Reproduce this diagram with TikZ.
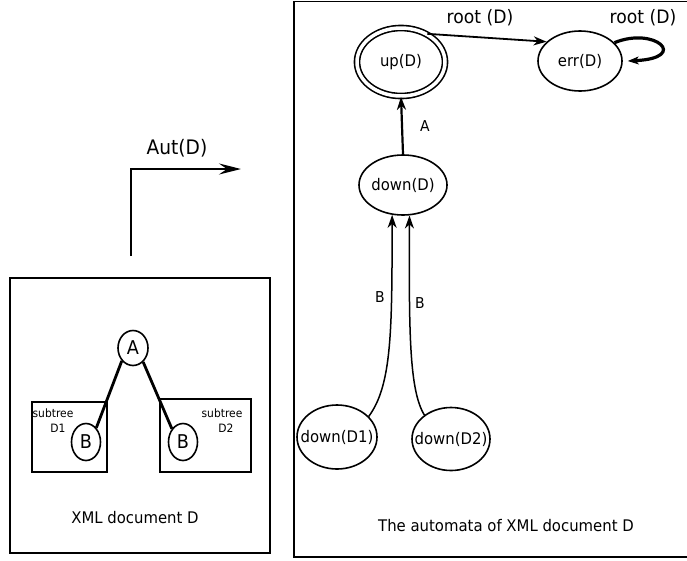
\documentclass[tikz,border=0pt]{standalone}
\usepackage{fontspec}
\setmainfont{DejaVu Sans}
\usetikzlibrary{shapes.geometric,arrows.meta}
\newcommand{\cz}[1]{\scalebox{0.93}[1]{#1}}
\newcommand{\cn}[1]{\makebox[0pt]{\scalebox{0.93}[1]{#1}}}
\begin{document}
\begin{tikzpicture}[x=1pt,y=-1pt,
  st/.style={draw,ellipse,line width=1.6pt,inner sep=0pt,font=\fontsize{16}{18}\selectfont},
  tn/.style={draw,ellipse,line width=1.6pt,inner sep=0pt,minimum width=30pt,minimum height=35pt,font=\fontsize{19}{21}\selectfont},
  frame/.style={draw,line width=1.8pt},
  sub/.style={draw,line width=1.5pt},
  small/.style={font=\fontsize{11.5}{13}\selectfont,inner sep=0pt},
  lab/.style={font=\fontsize{16}{18}\selectfont,inner sep=0pt},
  elab/.style={font=\fontsize{15}{17}\selectfont,inner sep=0pt},
  rlab/.style={font=\fontsize{18.5}{20}\selectfont,inner sep=0pt},
  arr/.style={line width=1.8pt,-{Stealth[length=13pt,width=9pt,inset=4pt]}},
]
\useasboundingbox (0,0) rectangle (687,560);
\clip (0,0) rectangle (687,560);

% left frame
\draw[frame] (10,278) rectangle (270,553);
\draw[sub] (32,402) rectangle (107,472);
\draw[sub] (160,399) rectangle (251,472);
\node[small] (s1) at (53,413) {\cz{subtree}};
\node[small] (d1l) at (58,428) {\cz{D1}};
\node[small] (s2) at (222,413) {\cz{subtree}};
\node[small] (d2l) at (226,428) {\cz{D2}};
\node[tn] (A) at (133,348) {\cn{A}};
\node[tn,minimum width=29pt,minimum height=37pt] (B1) at (86,442) {\cn{B}};
\node[tn,minimum width=29pt,minimum height=37pt] (B2) at (183,442) {\cn{B}};
\draw[line width=2.8pt] (A.229) -- (B1.54);
\draw[line width=2.8pt] (A.306) -- (B2.130);
\node[lab] (xml) at (135,518) {\cz{XML document D}};

% Aut(D) arrow
\coordinate (c0) at (131,256);
\coordinate (c1) at (131,169);
\coordinate (c2) at (241,169);
\draw[line width=2.4pt,-{Stealth[length=22pt,width=11pt,inset=8pt]}] (c0) -- (c1) -- (c2);
\node[font=\fontsize{20}{22}\selectfont,inner sep=0pt] (aut) at (177,148) {\cz{Aut(D)}};

% right frame
\draw[frame] (294,1.5) rectangle (700,557);
\node[st,minimum width=88pt,minimum height=68pt,double,double distance=3.5pt] (up) at (401,62) {\cn{up(D)}};
\node[st,minimum width=84pt,minimum height=60pt] (err) at (580,61) {\cn{err(D)}};
\node[st,minimum width=88pt,minimum height=60pt] (down) at (403,185) {\cn{down(D)}};
\node[st,minimum width=80pt,minimum height=64pt] (dd1) at (337,437) {\cn{down(D1)}};
\node[st,minimum width=78pt,minimum height=63pt] (dd2) at (451,439) {\cn{down(D2)}};

\draw[arr] (up.47) -- (err.150);
\node[rlab] (r1) at (480,18) {\cz{root (D)}};
\draw[line width=3.2pt,-{Stealth[length=11pt,width=8pt,inset=3pt,line width=1pt]}] (err.28) .. controls (655,26) and (690,58) .. ([xshift=5pt]err.east);
\node[rlab] (r2) at (643,18) {\cz{root (D)}};

\draw[arr,line width=2.2pt] (down.north) -- (up.south);
\node[elab] (la) at (425,126) {\cz{A}};

\draw[arr,line width=1.5pt] (dd1.33) .. controls (392,385) and (392,330) .. (down.250);
\draw[arr,line width=1.5pt] (dd2.138) .. controls (409,390) and (409,330) .. (down.-78);
\node[elab] (lb1) at (380,297) {\cz{B}};
\node[elab] (lb2) at (420,303) {\cz{B}};

\node[lab,anchor=west] (aut2) at (378,526) {\cz{The automata of XML document D}};
\end{tikzpicture}
\end{document}
